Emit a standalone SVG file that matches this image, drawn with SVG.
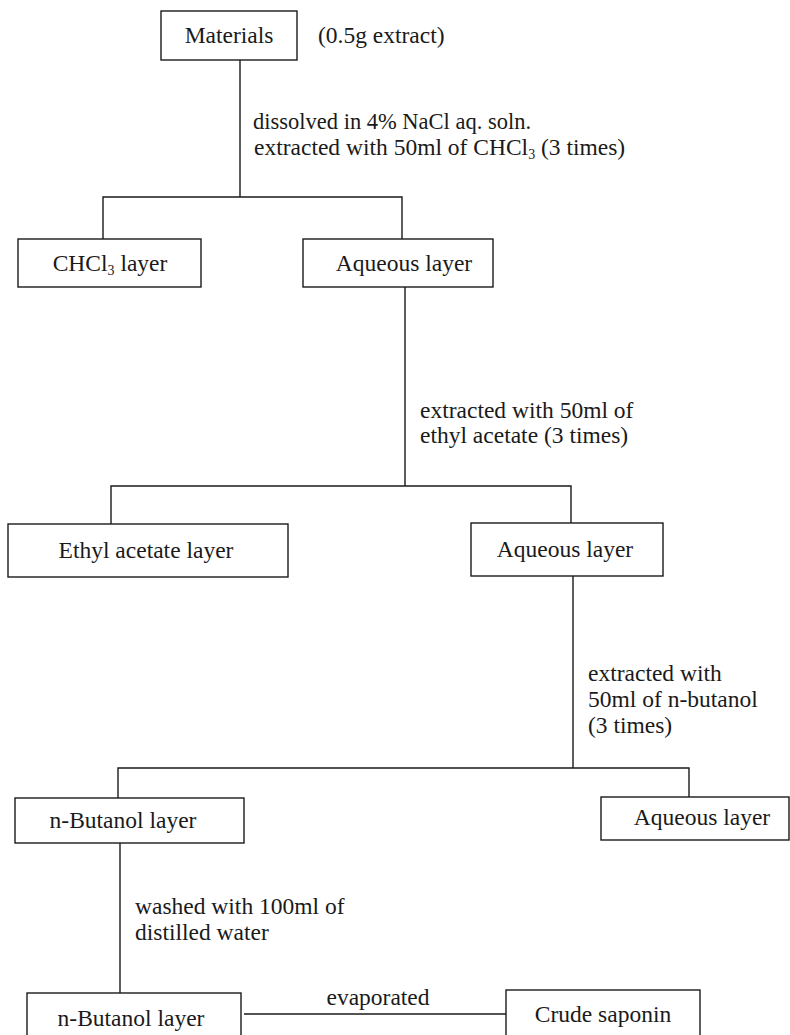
<svg xmlns="http://www.w3.org/2000/svg" width="790" height="1035" viewBox="0 0 790 1035">
<style>
  .box { fill: #ffffff; stroke: #1a1a1a; stroke-width: 1.4; }
  .conn { fill: none; stroke: #1a1a1a; stroke-width: 1.4; }
  text { font-family: "Liberation Serif", "DejaVu Serif", serif; font-size: 23.5px; fill: #1a1a1a; }
  .c { text-anchor: middle; }
  .sub { font-size: 14px; }
</style>
<rect x="0" y="0" width="790" height="1035" fill="#ffffff"/>
<g id="connectors">
  <path class="conn" d="M240,60 V197 M103,239 V197 H402 V239"/>
  <path class="conn" d="M405,287 V486 M111,524 V486 H571 V523"/>
  <path class="conn" d="M573,576 V768 M118,798 V768 H689 V797"/>
  <path class="conn" d="M120,843 V993"/>
  <path class="conn" d="M244,1014 H506"/>
  <text x="253" y="129" style="font-size:22.5px">dissolved in 4% NaCl aq. soln.</text>
  <text x="254" y="155">extracted with 50ml of CHCl<tspan class="sub" dy="4">3</tspan><tspan dy="-4"> (3 times)</tspan></text>
  <text x="420" y="418">extracted with 50ml of</text>
  <text x="420" y="443">ethyl acetate (3 times)</text>
  <text x="588" y="681">extracted with</text>
  <text x="588" y="707">50ml of n-butanol</text>
  <text x="588" y="733">(3 times)</text>
  <text x="135" y="914">washed with 100ml of</text>
  <text x="135" y="940">distilled water</text>
  <text x="378" y="1005" class="c">evaporated</text>
</g>
<g id="materials">
  <rect class="box" x="161" y="11" width="136" height="49"/>
  <text x="229" y="43" class="c">Materials</text>
  <text x="318" y="43">(0.5g extract)</text>
</g>
<g id="chcl3-layer">
  <rect class="box" x="18" y="239" width="183" height="48"/>
  <text x="110" y="271" class="c">CHCl<tspan class="sub" dy="4">3</tspan><tspan dy="-4"> layer</tspan></text>
</g>
<g id="aqueous-layer-1">
  <rect class="box" x="303" y="239" width="190" height="48"/>
  <text x="404" y="271" class="c">Aqueous layer</text>
</g>
<g id="ethyl-acetate-layer">
  <rect class="box" x="8" y="524" width="280" height="53"/>
  <text x="146" y="558" class="c">Ethyl acetate layer</text>
</g>
<g id="aqueous-layer-2">
  <rect class="box" x="471" y="523" width="192" height="53"/>
  <text x="565" y="557" class="c">Aqueous layer</text>
</g>
<g id="n-butanol-layer-1">
  <rect class="box" x="15" y="798" width="229" height="45"/>
  <text x="123" y="828" class="c">n-Butanol layer</text>
</g>
<g id="aqueous-layer-3">
  <rect class="box" x="601" y="797" width="188" height="43"/>
  <text x="702" y="825" class="c">Aqueous layer</text>
</g>
<g id="n-butanol-layer-2">
  <rect class="box" x="27" y="993" width="214" height="50"/>
  <text x="131" y="1026" class="c">n-Butanol layer</text>
</g>
<g id="crude-saponin">
  <rect class="box" x="506" y="990" width="194" height="50"/>
  <text x="603" y="1022" class="c">Crude saponin</text>
</g>
</svg>
